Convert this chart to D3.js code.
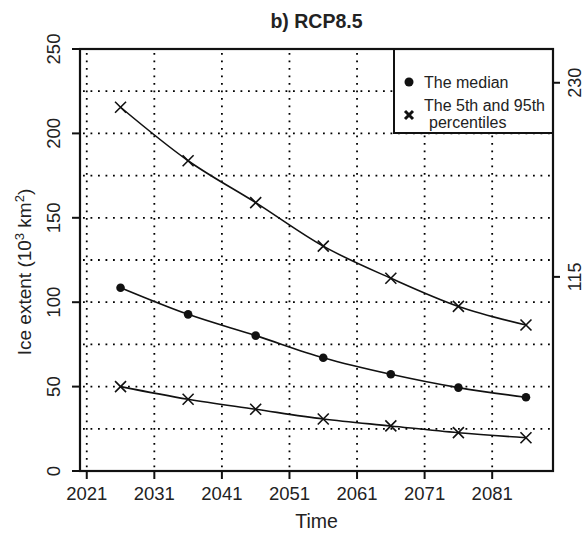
<!DOCTYPE html>
<html>
<head>
<meta charset="utf-8">
<script src="https://cdn.jsdelivr.net/npm/d3@7"></script>
<style>
	body { margin: 0; background: #fff; }
	text { font-family: "Liberation Sans", Arial, sans-serif; fill: #222; }
</style>
</head>
<body>
<div id="chart"></div>
<script>
// data
var years = [2026, 2036, 2046, 2056, 2066, 2076, 2086];
var p95 = [215.5, 183.8, 159, 133.2, 114.2, 97.5, 86.5];
var median = [108.6, 92.8, 80.2, 67.1, 57.3, 49.4, 43.7];
var p5 = [50, 42.5, 36.6, 30.8, 26.7, 22.7, 19.7];
var xTicks = [2021, 2031, 2041, 2051, 2061, 2071, 2081];
var yTicks = [0, 50, 100, 150, 200, 250];
var yRightTicks = [115, 230];
var gridY = [25, 50, 75, 100, 125, 150, 175, 200, 225];

var W = 585, H = 533;
var pLeft = 80, pRight = 553, pTop = 49, pBottom = 471;

var svg = d3.select("#chart").append("svg")
	.attr("width", W)
	.attr("height", H);

var x = d3.scaleLinear().domain([2020, 2090]).range([pLeft, pRight]);
var y = d3.scaleLinear().domain([0, 250]).range([pBottom, pTop]);

// dotted grid
var grid = svg.append("g")
	.attr("stroke", "#000")
	.attr("stroke-width", 1.8)
	.attr("stroke-dasharray", "1.8,5.7");
grid.selectAll(".gv").data(xTicks).enter().append("line")
	.attr("x1", function(d) { return x(d); })
	.attr("x2", function(d) { return x(d); })
	.attr("y1", pTop + 4).attr("y2", pBottom);
grid.selectAll(".gh").data(gridY).enter().append("line")
	.attr("y1", function(d) { return y(d); })
	.attr("y2", function(d) { return y(d); })
	.attr("x1", pLeft + 3).attr("x2", pRight);

// series lines
var line = function(vals) {
	return d3.line()
		.x(function(d, i) { return x(years[i]); })
		.y(function(d) { return y(d); })
		.curve(d3.curveMonotoneX)(vals);
};
[p95, median, p5].forEach(function(s) {
	svg.append("path")
		.attr("d", line(s))
		.attr("fill", "none")
		.attr("stroke", "#111")
		.attr("stroke-width", 1.6);
});

// cross markers
var cross = function(g, cx, cy, r, w) {
	g.append("path")
		.attr("d", "M" + (cx - r) + "," + (cy - r) + "L" + (cx + r) + "," + (cy + r) +
			"M" + (cx - r) + "," + (cy + r) + "L" + (cx + r) + "," + (cy - r))
		.attr("stroke", "#111")
		.attr("stroke-width", w)
		.attr("fill", "none");
};
[p95, p5].forEach(function(s) {
	s.forEach(function(d, i) { cross(svg, x(years[i]), y(d), 5.5, 1.6); });
});
svg.selectAll(".med").data(median).enter().append("circle")
	.attr("cx", function(d, i) { return x(years[i]); })
	.attr("cy", function(d) { return y(d); })
	.attr("r", 4.3)
	.attr("fill", "#111");

// legend
var lg = svg.append("g");
lg.append("rect")
	.attr("x", 394).attr("y", pTop)
	.attr("width", pRight - 394).attr("height", 84)
	.attr("fill", "#fff").attr("stroke", "#111").attr("stroke-width", 2);
lg.append("circle").attr("cx", 409).attr("cy", 82).attr("r", 4.5).attr("fill", "#111");
lg.append("text").attr("x", 424).attr("y", 87.5).attr("font-size", 16).text("The median");
cross(lg, 409, 115, 4, 3);
lg.append("text").attr("x", 424).attr("y", 111).attr("font-size", 16).text("The 5th and 95th");
lg.append("text").attr("x", 429).attr("y", 128).attr("font-size", 16).text("percentiles");

// box
svg.append("rect")
	.attr("x", pLeft).attr("y", pTop)
	.attr("width", pRight - pLeft).attr("height", pBottom - pTop)
	.attr("fill", "none").attr("stroke", "#111").attr("stroke-width", 2.2);

// x axis ticks and labels
var xa = svg.append("g");
xa.selectAll("line").data(xTicks).enter().append("line")
	.attr("x1", function(d) { return x(d); })
	.attr("x2", function(d) { return x(d); })
	.attr("y1", pBottom).attr("y2", pBottom + 8)
	.attr("stroke", "#111").attr("stroke-width", 2);
xa.selectAll("text").data(xTicks).enter().append("text")
	.attr("x", function(d) { return x(d); })
	.attr("y", 500)
	.attr("text-anchor", "middle")
	.attr("font-size", 18.5)
	.text(function(d) { return d; });

// left y axis
var ya = svg.append("g");
ya.selectAll("line").data(yTicks).enter().append("line")
	.attr("x1", pLeft - 8).attr("x2", pLeft)
	.attr("y1", function(d) { return y(d); })
	.attr("y2", function(d) { return y(d); })
	.attr("stroke", "#111").attr("stroke-width", 2);
ya.selectAll("text").data(yTicks).enter().append("text")
	.attr("transform", function(d) { return "translate(60," + y(d) + ")rotate(-90)"; })
	.attr("text-anchor", "middle")
	.attr("font-size", 18.5)
	.text(function(d) { return d; });

// right y axis
var yr = svg.append("g");
yr.selectAll("line").data(yRightTicks).enter().append("line")
	.attr("x1", pRight).attr("x2", pRight + 7)
	.attr("y1", function(d) { return y(d); })
	.attr("y2", function(d) { return y(d); })
	.attr("stroke", "#111").attr("stroke-width", 2);
yr.selectAll("text").data(yRightTicks).enter().append("text")
	.attr("transform", function(d) { return "translate(581," + y(d) + ")rotate(-90)"; })
	.attr("text-anchor", "middle")
	.attr("font-size", 18)
	.text(function(d) { return d; });

// titles
svg.append("text")
	.attr("x", (pLeft + pRight) / 2).attr("y", 28)
	.attr("text-anchor", "middle")
	.attr("font-size", 19.5)
	.attr("font-weight", "bold")
	.text("b) RCP8.5");
svg.append("text")
	.attr("x", (pLeft + pRight) / 2).attr("y", 528)
	.attr("text-anchor", "middle")
	.attr("font-size", 19.5)
	.text("Time");

var yl = svg.append("text")
	.attr("transform", "translate(31,272)rotate(-90)")
	.attr("text-anchor", "middle")
	.attr("font-size", 19);
yl.append("tspan").text("Ice extent (10");
yl.append("tspan").attr("font-size", 13).attr("dy", -7).text("3");
yl.append("tspan").attr("dy", 7).text(" km");
yl.append("tspan").attr("font-size", 13).attr("dy", -7).text("2");
yl.append("tspan").attr("dy", 7).text(")");
</script>
</body>
</html>
